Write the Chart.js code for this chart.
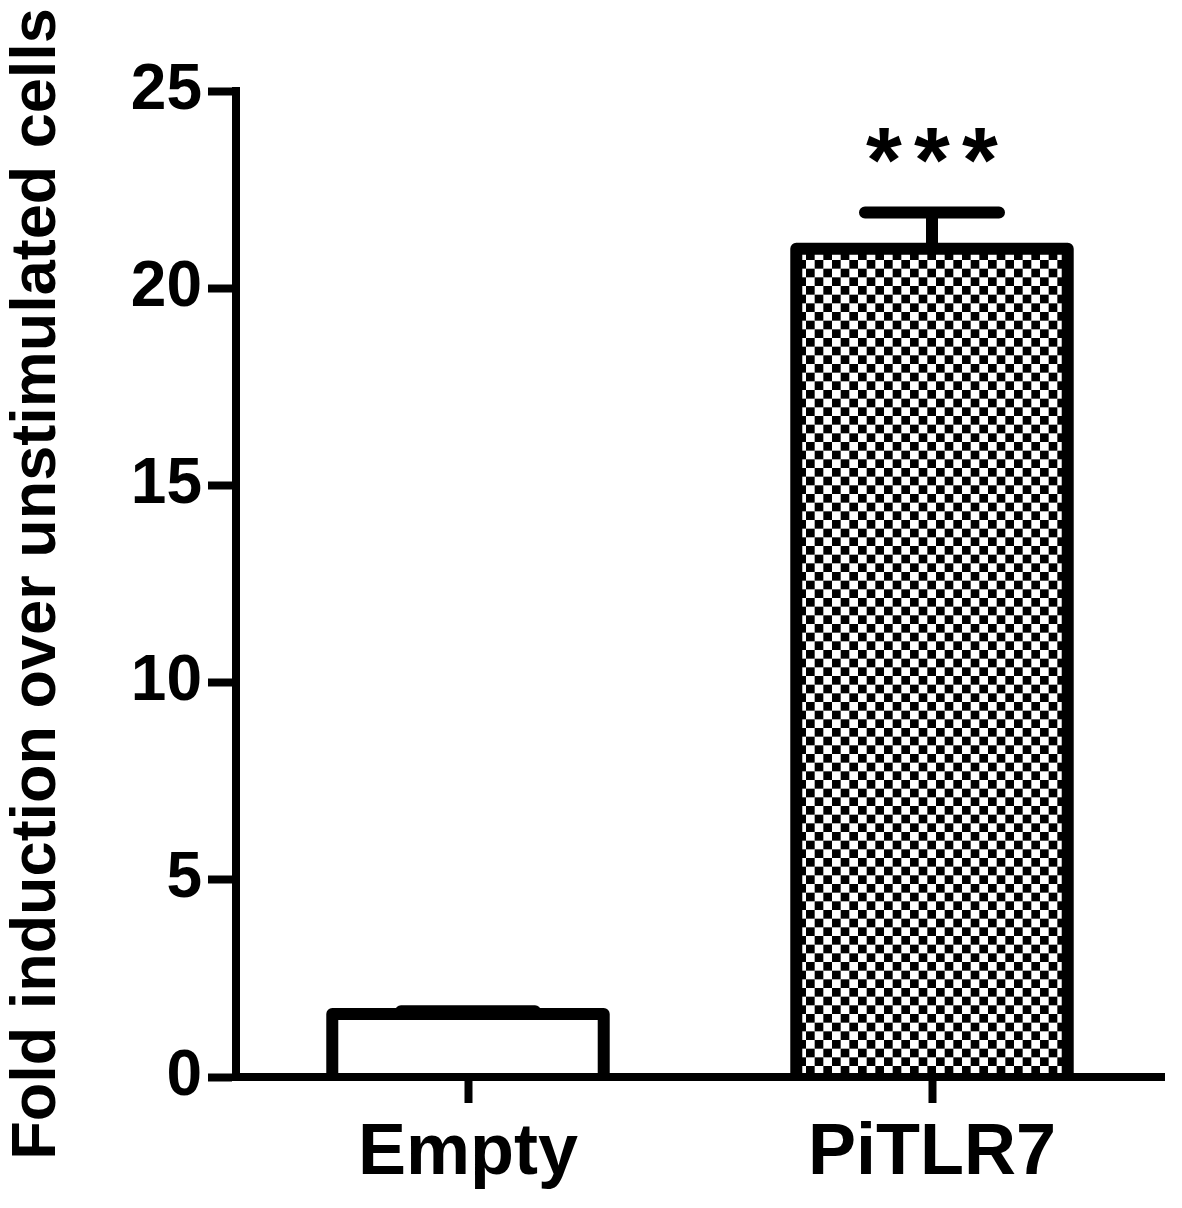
<!DOCTYPE html>
<html>
<head>
<meta charset="utf-8">
<script src="https://cdn.jsdelivr.net/npm/chart.js@4.4.1/dist/chart.umd.min.js"></script>
<style>
  html, body { margin: 0; padding: 0; background: #fff; }
  #wrap { width: 1182px; height: 1208px; }
</style>
</head>
<body>
<div id="wrap"><canvas id="chart" width="1182" height="1208"></canvas></div>
<script>
// -----------------------------
// Data
// -----------------------------
const categories = ['Empty', 'PiTLR7'];
const foldMeans = [1.6, 21.0];
const foldErrors = [0.07, 0.92];
const significance = ['', '***'];
const yTicks = [0, 5, 10, 15, 20, 25];
const yTitle = 'Fold induction over unstimulated cells';

// -----------------------------
// Styles
// -----------------------------
const FONT = '"Liberation Sans", Arial, sans-serif';
const OUTLINE_WIDTH = 12;
const CAP_HALF = 67;
const STAR_SIZE = 92;
const STAR_PITCH = 48;
const STAR_LIFT = 20;

function checkerPattern() {
    const size = 52;
    const cells = 6;
    const c = document.createElement('canvas');
    c.width = size;
    c.height = size;
    const g = c.getContext('2d');
    g.fillStyle = '#fff';
    g.fillRect(0, 0, size, size);
    g.fillStyle = '#000';
    const s = size / cells;
    for (let i = 0; i < cells; i++) {
        for (let j = 0; j < cells; j++) {
            if ((i + j) % 2 === 0) g.fillRect(i * s, j * s, s, s);
        }
    }
    return document.getElementById('chart').getContext('2d').createPattern(c, 'repeat');
}

// outline, error bars and stars drawn from the bar elements and the y scale
const barDecor = {
    id: 'barDecor',
    afterDatasetsDraw(chart) {
        const ctx = chart.ctx;
        const yScale = chart.scales.y;
        const meta = chart.getDatasetMeta(0);
        ctx.save();
        ctx.strokeStyle = '#000';
        ctx.fillStyle = '#000';
        meta.data.forEach((bar, i) => {
            const { x, y, base, width } = bar.getProps(['x', 'y', 'base', 'width'], true);
            const left = x - width / 2;
            const right = x + width / 2;
            const errTop = yScale.getPixelForValue(foldMeans[i] + foldErrors[i]);

            ctx.lineWidth = OUTLINE_WIDTH;
            ctx.lineCap = 'round';
            ctx.beginPath();
            ctx.moveTo(x, y);
            ctx.lineTo(x, errTop);
            ctx.moveTo(x - CAP_HALF, errTop);
            ctx.lineTo(x + CAP_HALF, errTop);
            ctx.stroke();

            ctx.lineCap = 'butt';
            ctx.lineJoin = 'round';
            ctx.beginPath();
            ctx.moveTo(left, base);
            ctx.lineTo(left, y);
            ctx.lineTo(right, y);
            ctx.lineTo(right, base);
            ctx.stroke();

            const stars = significance[i];
            if (stars) {
                ctx.font = `bold ${STAR_SIZE}px ${FONT}`;
                ctx.textAlign = 'center';
                ctx.textBaseline = 'alphabetic';
                const n = stars.length;
                for (let k = 0; k < n; k++) {
                    const sx = x + (k - (n - 1) / 2) * STAR_PITCH;
                    ctx.fillText(stars[k], sx, errTop - STAR_LIFT);
                }
            }
        });
        ctx.restore();
    }
};

new Chart(document.getElementById('chart'), {
    type: 'bar',
    data: {
        labels: categories,
        datasets: [{
            data: foldMeans,
            backgroundColor: ['#fff', checkerPattern()],
            borderWidth: 0,
            barPercentage: 0.585,
            categoryPercentage: 1
        }]
    },
    options: {
        responsive: false,
        animation: false,
        devicePixelRatio: 1,
        layout: { padding: { top: 91, right: 18, left: 0, bottom: 0 } },
        plugins: { legend: { display: false }, tooltip: { enabled: false } },
        scales: {
            x: {
                offset: true,
                grid: { drawOnChartArea: false, tickLength: 26, tickWidth: 8, tickColor: '#000', offset: false },
                border: { color: '#000', width: 8, z: 1 },
                ticks: { color: '#000', font: { family: FONT, size: 72, weight: 'bold' }, padding: 8 },
                afterFit(scale) { scale.height = 131; }
            },
            y: {
                min: 0,
                max: 25,
                afterBuildTicks(scale) { scale.ticks = yTicks.map(v => ({ value: v })); },
                grid: { drawOnChartArea: false, tickLength: 28, tickWidth: 8, tickColor: '#000' },
                border: { color: '#000', width: 8, z: 1 },
                ticks: { color: '#000', font: { family: FONT, size: 64, weight: 'bold' }, padding: 6 },
                title: {
                    display: true,
                    text: yTitle,
                    color: '#000',
                    font: { family: FONT, size: 63, weight: 'bold' },
                    padding: { top: 0, bottom: 0 }
                },
                afterFit(scale) { scale.width = 236; }
            }
        }
    },
    plugins: [barDecor]
});
</script>
</body>
</html>
